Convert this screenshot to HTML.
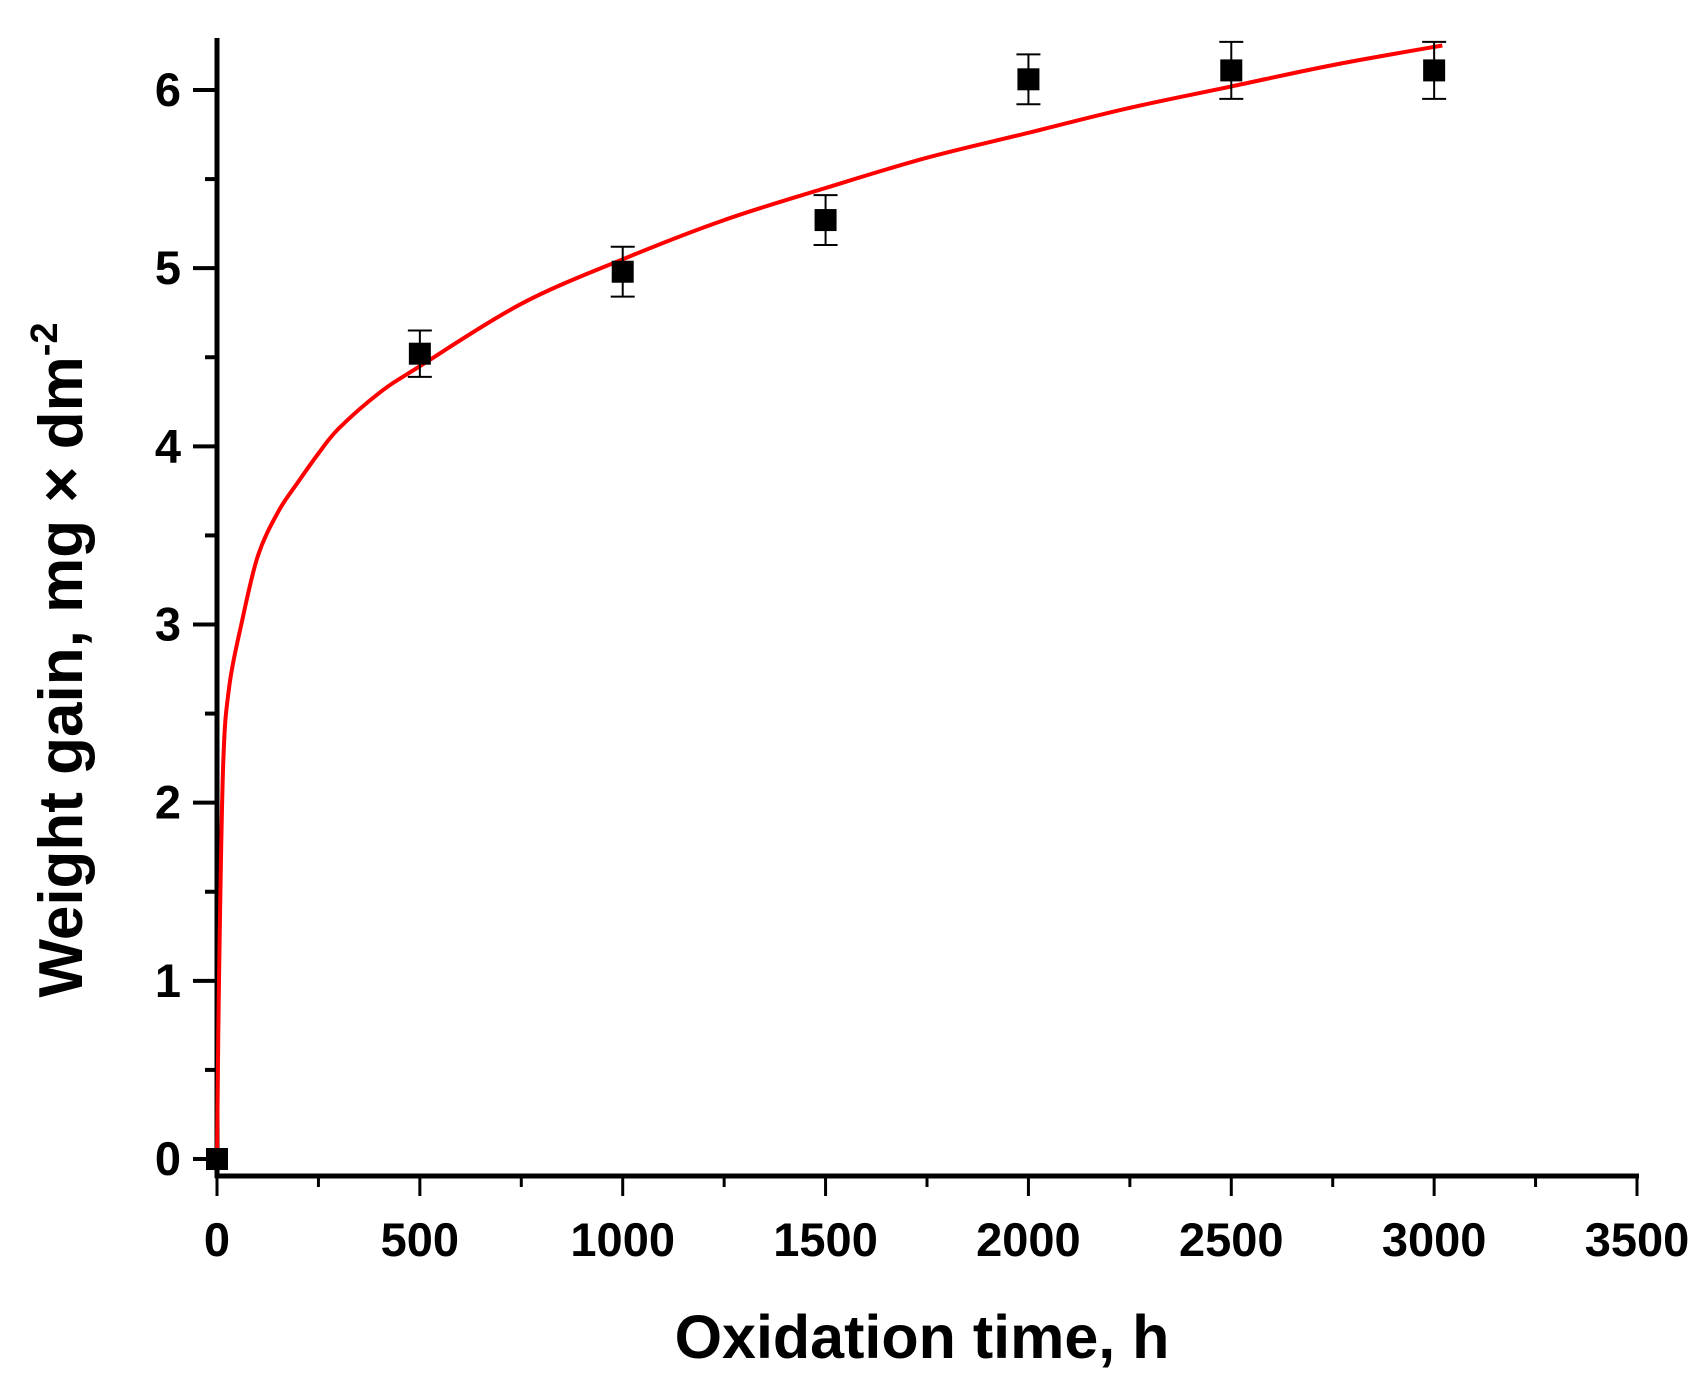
<!DOCTYPE html>
<html><head><meta charset="utf-8"><style>
body{margin:0;background:#fff}
svg text{font-family:"Liberation Sans",Arial,sans-serif;font-weight:bold;fill:#000}
</style></head><body>
<svg id="chart" width="1702" height="1382" viewBox="0 0 1702 1382"></svg>
<script>
const xTicks=[0,500,1000,1500,2000,2500,3000,3500];
const yTicks=[0,1,2,3,4,5,6];
const times=[0,500,1000,1500,2000,2500,3000];
const gains=[0,4.52,4.98,5.27,6.06,6.11,6.11];
const errs=[0,0.13,0.14,0.14,0.14,0.16,0.16];
const fitT=[0,5,15,30,60,100,150,200,250,300,400,500,750,1000,1250,1500,1750,2000,2250,2500,2750,3020];
const fitY=[0,1.0,2.2,2.65,3.0,3.38,3.63,3.8,3.96,4.1,4.3,4.45,4.8,5.05,5.27,5.45,5.62,5.76,5.9,6.02,6.14,6.25];

const X0=217,X1=1637,Y0=1159,Y6=90;
const xs=v=>X0+(X1-X0)*v/3500;
const ys=v=>Y0+(Y6-Y0)*v/6;
const svg=document.getElementById('chart');
const NS='http://www.w3.org/2000/svg';
function mk(tag,attrs,parent){const e=document.createElementNS(NS,tag);for(const k in attrs)e.setAttribute(k,attrs[k]);(parent||svg).appendChild(e);return e;}

let e=mk('line',{x1:X0,y1:38,x2:X0,y2:1178,stroke:'#000','stroke-width':5});


e=mk('line',{x1:X0-2,y1:1176,x2:X1+2,y2:1176,stroke:'#000','stroke-width':5});



xTicks.forEach((v,i)=>{
  const x=xs(v);
  let t=mk('line',{x1:x,y1:1176,x2:x,y2:1196,stroke:'#000','stroke-width':3});
  
  
  if(i<xTicks.length-1){const xm=xs(v+250);
    t=mk('line',{x1:xm,y1:1176,x2:xm,y2:1187,stroke:'#000','stroke-width':3});
    
    }
  const l=mk('text',{x:x,y:1256,'text-anchor':'middle','font-size':47});
  l.textContent=v;
  
  
});
yTicks.forEach((v,i)=>{
  const y=ys(v);
  let t=mk('line',{x1:X0-24,y1:y,x2:X0,y2:y,stroke:'#000','stroke-width':4});
  
  
  if(i<yTicks.length-1){const ym=ys(v+0.5);
    t=mk('line',{x1:X0-12,y1:ym,x2:X0,y2:ym,stroke:'#000','stroke-width':4});
    
    }
  const l=mk('text',{x:X0-36,y:y+16,'text-anchor':'end','font-size':47});
  l.textContent=v;
  
  
});

const P=fitT.map((t,i)=>[xs(t),ys(fitY[i])]);
let d='M'+P[0][0].toFixed(1)+','+P[0][1].toFixed(1);
for(let i=0;i<P.length-1;i++){
  const p0=P[Math.max(0,i-1)],p1=P[i],p2=P[i+1],p3=P[Math.min(P.length-1,i+2)];
  const c1=[p1[0]+(p2[0]-p0[0])/6,p1[1]+(p2[1]-p0[1])/6];
  const c2=[p2[0]-(p3[0]-p1[0])/6,p2[1]-(p3[1]-p1[1])/6];
  d+=' C'+c1[0].toFixed(1)+','+c1[1].toFixed(1)+' '+c2[0].toFixed(1)+','+c2[1].toFixed(1)+' '+p2[0].toFixed(1)+','+p2[1].toFixed(1);
}
e=mk('path',{d:d,fill:'none',stroke:'#f00','stroke-width':4});



times.forEach((t,i)=>{
  const x=xs(t),y=ys(gains[i]),yt=ys(gains[i]+errs[i]),yb=ys(gains[i]-errs[i]);
  const g=mk('g',{});
  
  
  if(errs[i]>0){
    mk('line',{x1:x,y1:yt,x2:x,y2:yb,stroke:'#000','stroke-width':2},g);
    mk('line',{x1:x-12,y1:yt,x2:x+12,y2:yt,stroke:'#000','stroke-width':2},g);
    mk('line',{x1:x-12,y1:yb,x2:x+12,y2:yb,stroke:'#000','stroke-width':2},g);
  }
  mk('rect',{x:x-11,y:y-11,width:22,height:22,fill:'#000'},g);
});

e=mk('text',{x:922,y:1358,'text-anchor':'middle','font-size':61});
e.textContent='Oxidation time, h';


e=mk('text',{x:0,y:0,'text-anchor':'middle','font-size':62,transform:'translate(82,660) rotate(-90)'});
e.innerHTML='Weight gain, mg × dm<tspan dy="-25" font-size="38">-2</tspan>';


</script>
</body></html>
